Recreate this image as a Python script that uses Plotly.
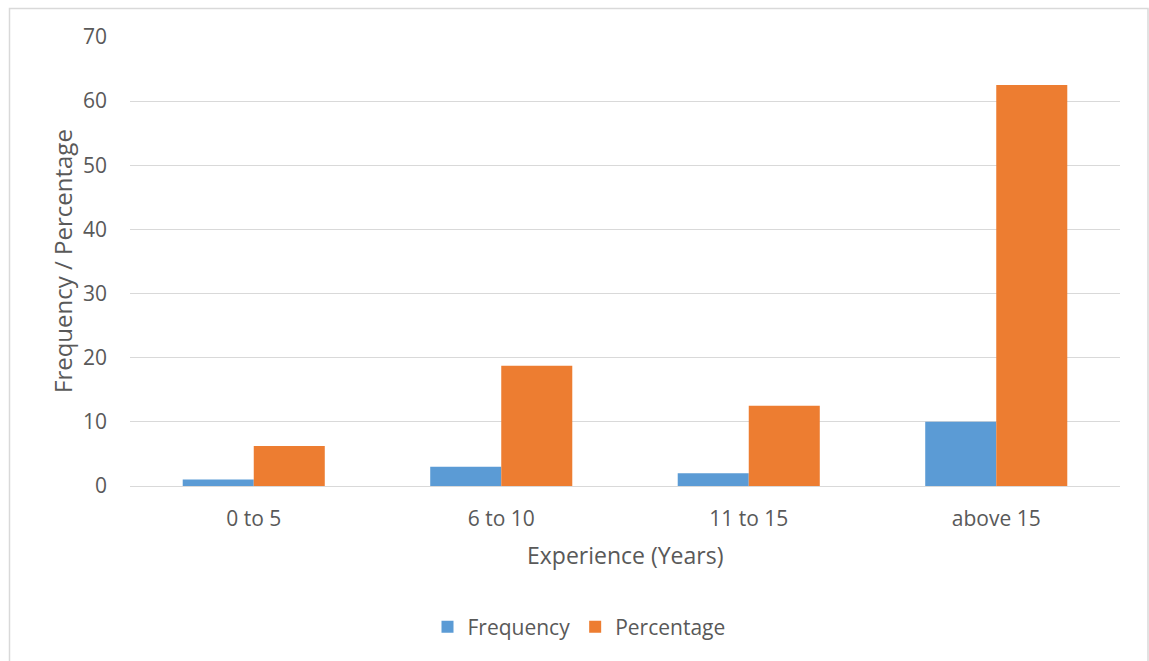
import plotly.graph_objects as go

# Experience groups and counts of respondents
categories = ["0 to 5", "6 to 10", "11 to 15", "above 15"]
frequency = [1, 3, 2, 10]
percentage = [6.25, 18.75, 12.5, 62.5]
y_ticks = [0, 10, 20, 30, 40, 50, 60, 70]

FONT = "Open Sans"
TEXT = "#595959"
GRID = "#d9d9d9"

W, H = 1149, 661
L, R, T, B = 130, 29, 37, 175
pw, ph = W - L - R, H - T - B

fig = go.Figure()
fig.add_trace(go.Bar(name="Frequency", x=categories, y=frequency,
                     marker=dict(color="#5B9BD5", line=dict(width=0))))
fig.add_trace(go.Bar(name="Percentage", x=categories, y=percentage,
                     marker=dict(color="#ED7D31", line=dict(width=0))))

fig.update_layout(
    width=W, height=H,
    margin=dict(l=L, r=R, t=T, b=B, pad=0),
    paper_bgcolor="white", plot_bgcolor="white",
    barmode="group", bargap=0.426, bargroupgap=0,
    font=dict(family=FONT, color=TEXT, size=21),
    showlegend=True,
    legend=dict(orientation="h", x=(579 - L) / pw, xanchor="center",
                y=(486 - 627) / ph, yanchor="middle",
                font=dict(family=FONT, size=21, color=TEXT),
                itemwidth=30, traceorder="normal"),
    xaxis=dict(showgrid=False, showline=False, zeroline=False,
               ticks="", ticklabelstandoff=18,
               tickfont=dict(family=FONT, size=21, color=TEXT)),
    yaxis=dict(range=[0, 70], tickvals=y_ticks, showgrid=True,
               gridcolor=GRID, gridwidth=1.3, zeroline=True,
               zerolinecolor=GRID, zerolinewidth=1.3, showline=False,
               ticks="", ticklabelstandoff=22,
               tickfont=dict(family=FONT, size=21, color=TEXT)),
    annotations=[
        dict(text="Experience (Years)", xref="paper", yref="paper",
             x=(625 - L) / pw, y=(486 - 555) / ph, xanchor="center",
             yanchor="middle", showarrow=False,
             font=dict(family=FONT, size=23, color=TEXT)),
        dict(text="Frequency / Percentage", xref="paper", yref="paper",
             x=(62 - L) / pw, y=(486 - 261) / ph, xanchor="center",
             yanchor="middle", textangle=-90, showarrow=False,
             font=dict(family=FONT, size=24, color=TEXT)),
    ],
    shapes=[
        dict(type="rect", xref="paper", yref="paper",
             x0=(9.5 - L) / pw, x1=(1148 - L) / pw,
             y0=(486 - 700) / ph, y1=(486 - 8.5) / ph,
             line=dict(color=GRID, width=1.5), fillcolor="rgba(0,0,0,0)",
             layer="below"),
    ],
)

fig.write_html("out.html")
